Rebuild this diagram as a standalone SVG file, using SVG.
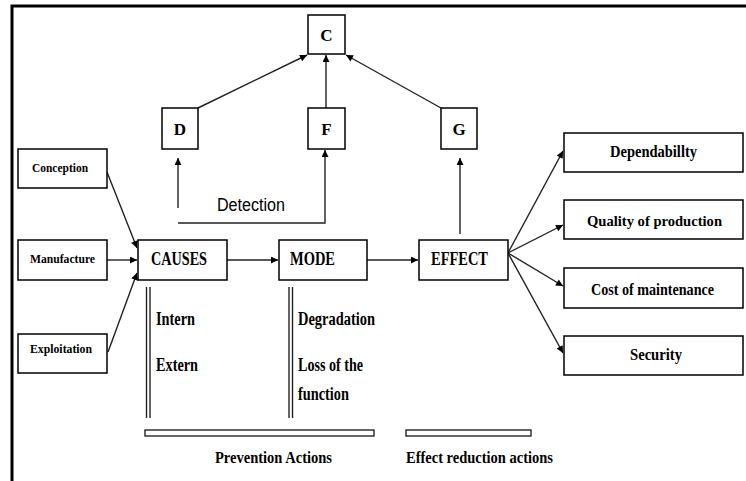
<svg xmlns="http://www.w3.org/2000/svg" width="746" height="481" viewBox="0 0 746 481">
<defs>
<style>
.box{fill:#fff;stroke:#000;stroke-width:1.5}
.ln{fill:none;stroke:#222;stroke-width:1.4}
.t{font-family:"Liberation Serif",serif;font-weight:bold;fill:#000}
.s{font-family:"Liberation Sans",sans-serif;fill:#000}
</style>
<marker id="ah" viewBox="0 0 10 10" refX="10" refY="5" markerWidth="9" markerHeight="7" orient="auto" markerUnits="userSpaceOnUse"><path d="M0,0 L10,5 L0,10 z" fill="#000"/></marker>
</defs>
<rect width="746" height="481" fill="#fff"/>
<path d="M12,481 V6 H746" fill="none" stroke="#000" stroke-width="3"/>

<g id="connectors">
<line class="ln" x1="198" y1="108" x2="307" y2="55" marker-end="url(#ah)"/>
<line class="ln" x1="326" y1="108" x2="326" y2="55" marker-end="url(#ah)"/>
<line class="ln" x1="441" y1="108" x2="346" y2="55" marker-end="url(#ah)"/>
<line class="ln" x1="178" y1="208" x2="178" y2="158" marker-end="url(#ah)"/>
<path class="ln" d="M178,223 H325 V150" marker-end="url(#ah)"/>
<line class="ln" x1="460" y1="234" x2="460" y2="158" marker-end="url(#ah)"/>
<line class="ln" x1="107" y1="172" x2="137" y2="248" marker-end="url(#ah)"/>
<line class="ln" x1="107" y1="260" x2="137" y2="260" marker-end="url(#ah)"/>
<line class="ln" x1="108" y1="352" x2="137" y2="273" marker-end="url(#ah)"/>
<line class="ln" x1="227" y1="260" x2="278" y2="260" marker-end="url(#ah)"/>
<line class="ln" x1="367" y1="260" x2="418" y2="260" marker-end="url(#ah)"/>
<line class="ln" x1="508" y1="253" x2="563" y2="151" marker-end="url(#ah)"/>
<line class="ln" x1="508" y1="253" x2="563" y2="225" marker-end="url(#ah)"/>
<line class="ln" x1="508" y1="253" x2="563" y2="286" marker-end="url(#ah)"/>
<line class="ln" x1="508" y1="253" x2="563" y2="353" marker-end="url(#ah)"/>
<text class="s" x="217" y="211" font-size="18" textLength="68" lengthAdjust="spacingAndGlyphs">Detection</text>
</g>

<g id="C"><rect class="box" x="308" y="15" width="37" height="39"/><text class="t" x="326.5" y="41" font-size="17" text-anchor="middle">C</text></g>
<g id="D"><rect class="box" x="162" y="108" width="36" height="41"/><text class="t" x="180" y="135" font-size="17" text-anchor="middle">D</text></g>
<g id="F"><rect class="box" x="308" y="108" width="37" height="41"/><text class="t" x="326.5" y="135" font-size="17" text-anchor="middle">F</text></g>
<g id="G"><rect class="box" x="441" y="108" width="36" height="41"/><text class="t" x="459" y="135" font-size="17" text-anchor="middle">G</text></g>

<g id="conception"><rect class="box" x="18" y="149" width="89" height="39"/><text class="t" x="32" y="172" font-size="13" textLength="56" lengthAdjust="spacingAndGlyphs">Conception</text></g>
<g id="manufacture"><rect class="box" x="18" y="240" width="89" height="40"/><text class="t" x="30" y="263" font-size="13" textLength="65" lengthAdjust="spacingAndGlyphs">Manufacture</text></g>
<g id="exploitation"><rect class="box" x="18" y="334" width="89" height="39"/><text class="t" x="30" y="353" font-size="13" textLength="62" lengthAdjust="spacingAndGlyphs">Exploitation</text></g>

<g id="causes"><rect class="box" x="138" y="240" width="89" height="40"/><text class="t" x="151" y="265" font-size="18" textLength="56" lengthAdjust="spacingAndGlyphs">CAUSES</text></g>
<g id="mode"><rect class="box" x="279" y="240" width="88" height="40"/><text class="t" x="290" y="265" font-size="18" textLength="45" lengthAdjust="spacingAndGlyphs">MODE</text></g>
<g id="effect"><rect class="box" x="419" y="240" width="89" height="40"/><text class="t" x="431" y="265" font-size="18" textLength="57" lengthAdjust="spacingAndGlyphs">EFFECT</text></g>

<g id="dependability"><rect class="box" x="564" y="133" width="179" height="39"/><text class="t" x="610" y="157" font-size="17" textLength="87" lengthAdjust="spacingAndGlyphs">Dependabillty</text></g>
<g id="quality"><rect class="box" x="564" y="200" width="179" height="39"/><text class="t" x="587" y="226" font-size="15.5" textLength="135" lengthAdjust="spacingAndGlyphs">Quality of production</text></g>
<g id="cost"><rect class="box" x="564" y="268" width="179" height="40"/><text class="t" x="591" y="295" font-size="16" textLength="123" lengthAdjust="spacingAndGlyphs">Cost of maintenance</text></g>
<g id="security"><rect class="box" x="564" y="336" width="179" height="39"/><text class="t" x="630" y="360" font-size="17" textLength="52" lengthAdjust="spacingAndGlyphs">Security</text></g>

<g id="causes-types">
<line class="ln" x1="146.5" y1="287" x2="146.5" y2="418"/>
<line class="ln" x1="150" y1="287" x2="150" y2="418"/>
<text class="t" x="156" y="325" font-size="18" textLength="39" lengthAdjust="spacingAndGlyphs">Intern</text>
<text class="t" x="156" y="371" font-size="18" textLength="42" lengthAdjust="spacingAndGlyphs">Extern</text>
</g>
<g id="mode-types">
<line class="ln" x1="289" y1="287" x2="289" y2="418"/>
<line class="ln" x1="292.5" y1="287" x2="292.5" y2="418"/>
<text class="t" x="298" y="325" font-size="18" textLength="77" lengthAdjust="spacingAndGlyphs">Degradation</text>
<text class="t" x="298" y="371" font-size="18" textLength="65" lengthAdjust="spacingAndGlyphs">Loss of the</text>
<text class="t" x="298" y="400" font-size="18" textLength="51" lengthAdjust="spacingAndGlyphs">function</text>
</g>
<g id="prevention">
<rect x="145" y="430" width="229" height="6" fill="#fff" stroke="#000" stroke-width="1.2"/>
<text class="t" x="215" y="463" font-size="16" textLength="117" lengthAdjust="spacingAndGlyphs">Prevention Actions</text>
</g>
<g id="effect-reduction">
<rect x="406" y="430" width="125" height="6" fill="#fff" stroke="#000" stroke-width="1.2"/>
<text class="t" x="406" y="463" font-size="16" textLength="147" lengthAdjust="spacingAndGlyphs">Effect reduction actions</text>
</g>
</svg>
